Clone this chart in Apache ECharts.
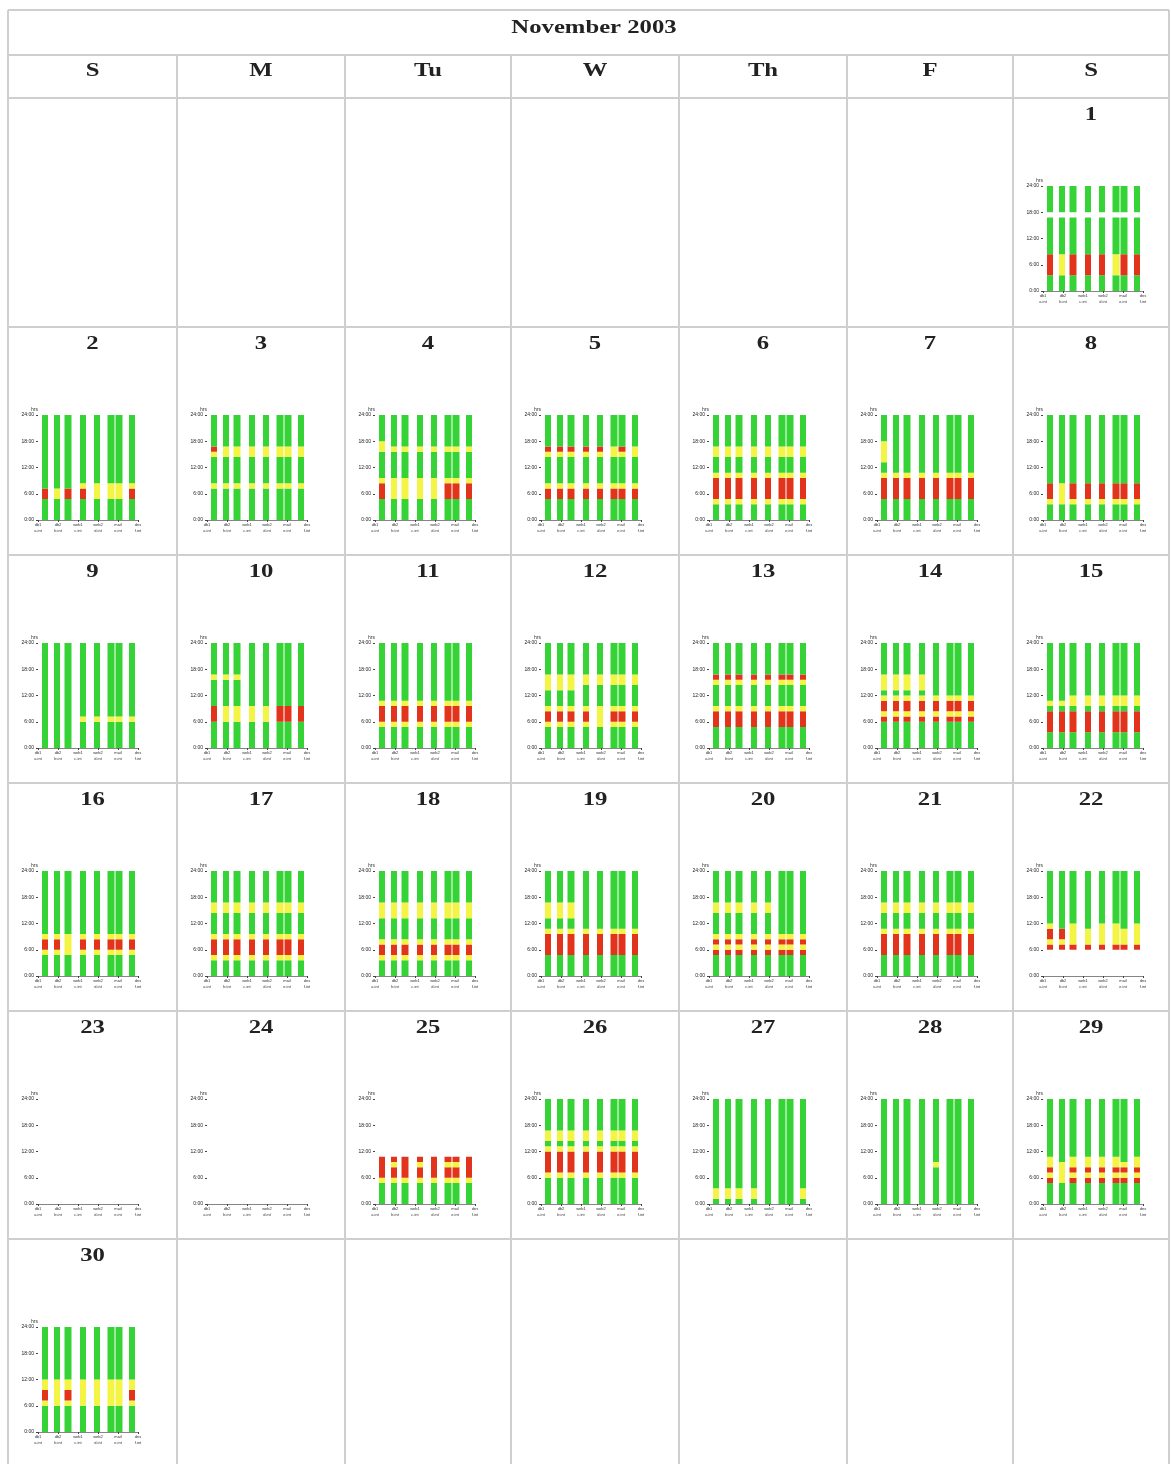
<!DOCTYPE html>
<html>
<head>
<meta charset="utf-8">
<script src="https://cdn.jsdelivr.net/npm/echarts@6/dist/echarts.min.js"></script>
<style>
html, body { margin: 0; padding: 0; background: #fff; }
#main { width: 1171px; height: 1464px; }
</style>
</head>
<body>
<div id="main"></div>
<script>
// calendar
var monthTitle = 'November 2003';
var weekdayLabels = ['S', 'M', 'Tu', 'W', 'Th', 'F', 'S'];
var firstWeekday = 6; // 1 Nov 2003 = Saturday
var dayCount = 30;

// mini chart columns (x position / width in axis units)
var columnX = [7, 19, 30, 45, 59, 73, 81, 94];
var columnWidth = [6, 6, 7, 6, 6, 7, 7, 6];
var rowStep = 5; // each profile char covers 5 units of the 0..100 axis

var yTickLabels = ['0:00', '6:00', '12:00', '18:00', '24:00'];
var xTickLabels = ['db1', 'db2', 'web1', 'web2', 'mail', 'dns'];
var xTickSub = ['a.int', 'b.int', 'c.int', 'd.int', 'e.int', 'f.int'];

// g green, y yellow, r red, a red/yellow by redMask, b yellow/green by yellowMask, ' ' no data
// one string per day, bottom row first
var dayProfiles = [
  'gggaaaaggggggg ggggg',
  'ggggaabggggggggggggg',
  'ggggggygggggyagggggg',
  'ggggaaaygggggybggggg',
  'ggggrrygggggyagggggg',
  'gggyrrrrygggyygggggg',
  'ggggrrrryggbbbbggggg',
  'gggyaaaggggggggggggg',
  'gggggbgggggggggggggg',
  'gggggaaagggggbgggggg',
  'ggggyrrryggggggggggg',
  'ggggyaaygggbyygggggg',
  'ggggrrryggggyrgggggg',
  'gggggryrrygbbbgggggg',
  'gggrrrrgybgggggggggg',
  'ggggyaaygggggggggggg',
  'gggyrrryggggyygggggg',
  'gggyrryggggyyygggggg',
  'ggggrrrryggbbbgggggg',
  'ggggryryggggbbgggggg',
  'ggggrrrrygggyygggggg',
  '     ryaabgggggggggg',
  '                    ',
  '                    ',
  'ggggyrrar           ',
  'gggggyrrrrygyygggggg',
  'gbbggggggggggggggggg',
  'gggggggbgggggggggggg',
  'ggggayaybggggggggggg',
  'gggggyaayygggggggggg'
];
var redMask = [
  '10111011', '10110001', '10000000', '10000111', '11111010', '00000000', '00000000', '10111111',
  '00000000', '10000111', '00000000', '11110111', '00000000', '00000000', '00000000', '11011111',
  '00000000', '00000000', '00000000', '00000000', '00000000', '11000000', '00000000', '00000000',
  '10101001', '00000000', '00000000', '00000000', '10111111', '10100001'
];
var yellowMask = [
  '00000000', '00011111', '00000000', '10000000', '00000000', '00000000', '10000000', '00000000',
  '00011111', '11100000', '00000000', '11100000', '00000000', '11110000', '00111111', '00000000',
  '00000000', '00000000', '11100000', '11111000', '00000000', '10101101', '00000000', '00000000',
  '00000000', '00000000', '11110001', '00001000', '10111101', '00000000'
];

var statusColors = ['#36d336', '#f4f444', '#e2341d'];

// table layout
var colLefts = [8, 177, 345, 511, 679, 847, 1013, 1169];
var rowTops = [98, 327, 555, 783, 1011, 1239];
var lineColor = '#cfcfcf';
var serif = '"Liberation Serif", "DejaVu Serif", serif';

function cellCode(ch, d, c) {
  if (ch === 'a') return redMask[d][c] === '1' ? 2 : 1;
  if (ch === 'b') return yellowMask[d][c] === '1' ? 1 : 0;
  if (ch === 'g') return 0;
  if (ch === 'y') return 1;
  if (ch === 'r') return 2;
  return -1;
}

function daySegments(d) {
  var prof = dayProfiles[d], out = [];
  for (var c = 0; c < columnX.length; c++) {
    var start = 0, prev = null;
    for (var r = 0; r <= prof.length; r++) {
      var code = r < prof.length ? cellCode(prof[r], d, c) : null;
      if (code !== prev) {
        if (prev !== null && prev >= 0) {
          out.push([columnX[c], start * rowStep, r * rowStep, prev, columnWidth[c]]);
        }
        start = r;
        prev = code;
      }
    }
  }
  return out;
}

function renderSegment(params, api) {
  var half = api.value(4) / 2;
  var p0 = api.coord([api.value(0) - half, api.value(2)]);
  var p1 = api.coord([api.value(0) + half, api.value(1)]);
  return {
    type: 'rect',
    shape: { x: p0[0], y: p0[1], width: p1[0] - p0[0], height: p1[1] - p0[1] },
    style: { fill: statusColors[api.value(3)] }
  };
}

var grids = [], xAxes = [], yAxes = [], series = [], graphics = [];

// table frame
var hLines = [10, 55].concat(rowTops);
hLines.forEach(function (y) {
  graphics.push({ type: 'line', shape: { x1: 8, y1: y, x2: 1169, y2: y }, style: { stroke: lineColor, lineWidth: 2 }, silent: true });
});
colLefts.forEach(function (x, i) {
  var y1 = (i === 0 || i === colLefts.length - 1) ? 10 : 55;
  graphics.push({ type: 'line', shape: { x1: x, y1: y1, x2: x, y2: 1464 }, style: { stroke: lineColor, lineWidth: 2 }, silent: true });
});

graphics.push({
  type: 'text', x: 594, y: 28, scaleX: 1.3,
  style: { text: monthTitle, font: 'bold 19px ' + serif, fill: '#222', textAlign: 'center', textVerticalAlign: 'middle' }
});
weekdayLabels.forEach(function (w, i) {
  graphics.push({
    type: 'text', x: (colLefts[i] + colLefts[i + 1]) / 2, y: 71, scaleX: 1.3,
    style: { text: w, font: 'bold 19px ' + serif, fill: '#222', textAlign: 'center', textVerticalAlign: 'middle' }
  });
});

for (var d = 0; d < dayCount; d++) {
  var slot = d + firstWeekday;
  var col = slot % 7, row = Math.floor(slot / 7);
  var cellLeft = colLefts[col], rowTop = rowTops[row];

  graphics.push({
    type: 'text', x: (cellLeft + colLefts[col + 1]) / 2, y: rowTop + 17, scaleX: 1.3,
    style: { text: String(d + 1), font: 'bold 19px ' + serif, fill: '#222', textAlign: 'center', textVerticalAlign: 'middle' }
  });

  grids.push({ left: cellLeft + 30, top: rowTop + 88, width: 100, height: 105 });
  xAxes.push({
    gridIndex: d, type: 'value', min: 0, max: 100, interval: 20,
    axisLine: { show: true, lineStyle: { color: '#666', width: 0.8 } },
    axisTick: { show: true, length: 2, lineStyle: { color: '#444' } },
    splitLine: { show: false },
    axisLabel: {
      fontSize: 4, color: '#333', margin: 2, lineHeight: 6,
      formatter: function (v) { return xTickLabels[v / 20] + '\n' + xTickSub[v / 20]; }
    }
  });
  yAxes.push({
    gridIndex: d, type: 'value', min: 0, max: 100, interval: 25,
    name: 'hrs', nameGap: 3, nameTextStyle: { fontSize: 5, color: '#333', align: 'right' },
    axisLine: { show: false },
    axisTick: { show: true, length: 2, lineStyle: { color: '#444' } },
    splitLine: { show: false },
    axisLabel: {
      fontSize: 5, color: '#222', margin: 4,
      formatter: function (v) { return yTickLabels[v / 25]; }
    }
  });
  series.push({
    type: 'custom', xAxisIndex: d, yAxisIndex: d,
    renderItem: renderSegment,
    encode: { x: 0, y: [1, 2] },
    data: daySegments(d),
    silent: true
  });
}

var chart = echarts.init(document.getElementById('main'), null, { renderer: 'canvas' });
chart.setOption({
  animation: false,
  backgroundColor: '#fff',
  grid: grids,
  xAxis: xAxes,
  yAxis: yAxes,
  series: series,
  graphic: graphics
});
</script>
</body>
</html>
